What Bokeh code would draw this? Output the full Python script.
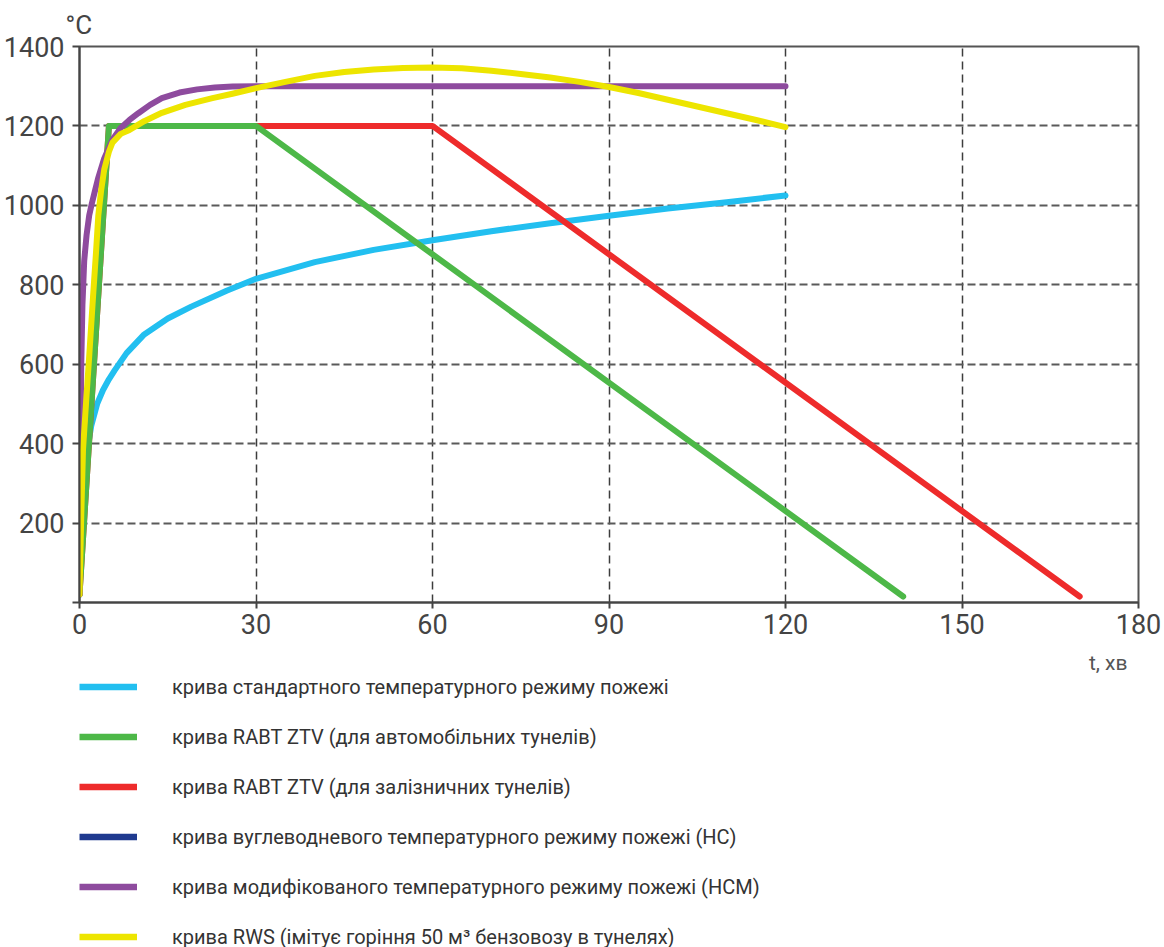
import numpy as np
from bokeh.plotting import figure
from bokeh.models import FixedTicker, Legend, LegendItem, Title, Label, ColumnDataSource
from bokeh.layouts import column
from bokeh.embed import file_html
from bokeh.resources import INLINE

# ---- data ----
t_std = [0, 0.3, 0.6, 1, 1.5, 2, 3, 4, 5, 6, 8, 11, 15, 19, 25, 30, 40, 50, 60, 70, 80, 90, 100, 110, 120]
T_std = [20, 180, 270, 340, 400, 445, 500, 535, 562, 585, 628, 675, 715, 745, 785, 815, 857, 888, 912, 935, 955, 974, 992, 1008, 1025]

t_road = [0, 5, 30, 140]
T_road = [20, 1200, 1200, 15]

t_rail = [0, 5, 60, 170]
T_rail = [20, 1200, 1200, 15]

t_hc = []
T_hc = []

t_hcm = [0, 0.15, 0.3, 0.5, 0.8, 1.2, 1.65, 2.1, 2.6, 3.2, 4.2, 5.6, 7, 8.5, 10, 12, 14, 17, 20, 23, 26, 30, 60, 90, 120]
T_hcm = [20, 400, 600, 750, 860, 925, 975, 1005, 1035, 1070, 1118, 1165, 1195, 1215, 1232, 1253, 1270, 1284, 1292, 1297, 1299, 1300, 1300, 1300, 1300]

t_rws = [0, 0.3, 0.6, 1.1, 1.65, 2.3, 2.8, 3.2, 3.7, 4.2, 5, 5.6, 7, 8.5, 11, 14, 18, 22.6, 26, 30, 35, 40, 45, 50, 55, 60,
         65, 70, 75, 80, 85, 90, 95, 100, 105, 110, 115, 120]
T_rws = [20, 220, 386, 500, 620, 770, 880, 975, 1040, 1090, 1135, 1158, 1180, 1190, 1212, 1233, 1253, 1270, 1281, 1295, 1311,
         1326, 1336, 1342, 1346, 1347, 1345, 1339, 1331, 1322, 1311, 1298, 1283, 1266, 1249, 1232, 1215, 1197]

x_ticks = [0, 30, 60, 90, 120, 150, 180]
y_ticks = [0, 200, 400, 600, 800, 1000, 1200, 1400]

labels = [
    "крива стандартного температурного режиму пожежі",
    "крива RABT ZTV (для автомобільних тунелів)",
    "крива RABT ZTV (для залізничних тунелів)",
    "крива вуглеводневого температурного режиму пожежі (HC)",
    "крива модифікованого температурного режиму пожежі (HCM)",
    "крива RWS (імітує горіння 50 м³ бензовозу в тунелях)",
]
colors = ["#22BFF0", "#4DB848", "#EE2B2B", "#1F3A8F", "#8E4B9E", "#EDE500"]

FONT = "Roboto"
GREY = "#444444"
W = 6

# ---------------- main chart ----------------
p = figure(frame_width=1059, frame_height=556, x_range=(0, 180), y_range=(0, 1400),
           output_backend="svg", toolbar_location=None,
           min_border_left=77, min_border_right=24, min_border_top=45, min_border_bottom=44)
p.background_fill_color = "white"
p.border_fill_color = "white"
p.outline_line_color = "#555555"
p.outline_line_width = 2

p.xaxis.ticker = FixedTicker(ticks=x_ticks)
p.yaxis.ticker = FixedTicker(ticks=y_ticks)
p.yaxis.major_label_overrides = {0: ""}
for ax in (p.xaxis, p.yaxis):
    ax.axis_line_color = GREY
    ax.axis_line_width = 2
    ax.major_tick_line_color = GREY
    ax.major_tick_line_width = 2
    ax.major_tick_in = 0
    ax.minor_tick_line_color = None
    ax.major_label_text_font = FONT
    ax.major_label_text_font_size = "27px"
    ax.major_label_text_color = GREY
p.xaxis.major_tick_out = 6
p.yaxis.major_tick_out = 7
p.xaxis.major_label_standoff = 5
p.yaxis.major_label_standoff = 8

p.xgrid.ticker = FixedTicker(ticks=[30, 60, 90, 120, 150])
p.ygrid.ticker = FixedTicker(ticks=[200, 400, 600, 800, 1000, 1200])
p.xgrid.grid_line_color = "#3d3d3d"
p.xgrid.grid_line_width = 1.5
p.xgrid.grid_line_dash = "8 5"
p.ygrid.grid_line_color = "#5a5a5a"
p.ygrid.grid_line_width = 2
p.ygrid.grid_line_dash = "8 4"

p.line(t_std, T_std, line_color=colors[0], line_width=W, line_join="round", line_cap="round")
p.line(t_rail, T_rail, line_color=colors[2], line_width=W, line_join="round", line_cap="round")
p.line(t_road, T_road, line_color=colors[1], line_width=W, line_join="round", line_cap="round")
p.line(x="t", y="T", source=ColumnDataSource(dict(t=t_hc, T=T_hc)), line_color=colors[3], line_width=W)
p.line(t_hcm, T_hcm, line_color=colors[4], line_width=W, line_join="round", line_cap="round")
p.line(t_rws, T_rws, line_color=colors[5], line_width=W, line_join="round", line_cap="round")

p.add_layout(Title(text="°C", align="left", offset=-14, standoff=14, vertical_align="bottom",
                   text_font=FONT, text_font_size="26px", text_font_style="normal", text_color=GREY), "above")

# ---------------- legend strip (frame aligned with the chart frame: x = page px) ----------------
LH = 302
q = figure(width=1160, height=LH, x_range=(77, 1136), y_range=(0, LH),
           output_backend="svg", toolbar_location=None,
           x_axis_location=None, y_axis_location=None, min_border=0)
q.outline_line_color = None
q.xgrid.visible = False
q.ygrid.visible = False

proxies = []
for c in colors:
    proxies.append(q.line(x="t", y="T", source=ColumnDataSource(dict(t=[np.nan], T=[np.nan])),
                          line_color=c, line_width=6.5))

legend = Legend(items=[LegendItem(label=l, renderers=[r]) for l, r in zip(labels, proxies)],
                location=(0, -1), orientation="vertical",
                glyph_width=58, glyph_height=25, label_height=25, label_standoff=35,
                spacing=25, padding=0, margin=0,
                background_fill_alpha=0, border_line_color=None,
                label_text_font=FONT, label_text_font_size="20px", label_text_color="#333333")
q.add_layout(legend, "center")

q.add_layout(Label(x=1127, y=LH - 16, text="t, хв", text_align="right", text_baseline="middle",
                   text_font=FONT, text_font_size="21px", text_color="#555555"))

open("out.html", "w").write(file_html(column(p, q, spacing=0), INLINE))
